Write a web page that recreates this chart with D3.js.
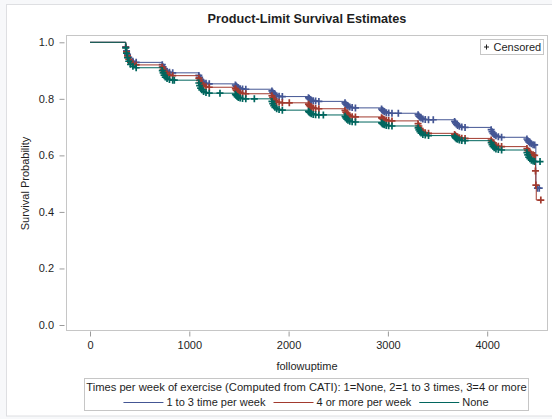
<!DOCTYPE html>
<html>
<head>
<meta charset="utf-8">
<script src="https://cdn.jsdelivr.net/npm/d3@7"></script>
<style>
  html, body { margin: 0; padding: 0; background: #f7f8fa; }
  svg { display: block; font-family: "Liberation Sans", Arial, sans-serif; }
</style>
</head>
<body>
<svg id="chart" width="552" height="419"></svg>
<script>
// Kaplan-Meier (product-limit) estimates by weekly exercise group.
const seriesNames = ["1 to 3 time per week", "4 or more per week", "None"];
const seriesColors = ["#445694", "#A23A2E", "#01665E"];

// Event times (days) falling in each yearly follow-up window.
const visitTimes = [
  360, 368, 378, 390, 408, 432, 465,
  728, 736, 746, 758, 776, 800, 833,
  1096, 1104, 1114, 1126, 1144, 1168, 1201,
  1464, 1472, 1482, 1494, 1512, 1536, 1569,
  1832, 1840, 1850, 1862, 1880, 1904, 1937,
  2200, 2208, 2218, 2230, 2248, 2272, 2305,
  2568, 2576, 2586, 2598, 2616, 2640, 2673,
  2936, 2944, 2954, 2966, 2984, 3008, 3041,
  3304, 3312, 3322, 3334, 3352, 3376, 3409,
  3672, 3680, 3690, 3702, 3720, 3744, 3777,
  4040, 4048, 4058, 4070, 4088, 4112, 4145,
  4400, 4408, 4418, 4430, 4445, 4462, 4478
];

// Survival estimate after each visit-window event.
const blueSurv = [
  0.984, 0.970, 0.957, 0.947, 0.938, 0.933, 0.929,
  0.921, 0.913, 0.907, 0.901, 0.897, 0.894, 0.892,
  0.883, 0.876, 0.869, 0.863, 0.858, 0.855, 0.853,
  0.849, 0.845, 0.842, 0.839, 0.836, 0.835, 0.834,
  0.828, 0.823, 0.818, 0.815, 0.811, 0.809, 0.808,
  0.804, 0.801, 0.798, 0.795, 0.793, 0.792, 0.791,
  0.786, 0.781, 0.777, 0.774, 0.771, 0.769, 0.768,
  0.764, 0.760, 0.757, 0.754, 0.751, 0.750, 0.749,
  0.744, 0.739, 0.735, 0.732, 0.729, 0.727, 0.726,
  0.720, 0.715, 0.710, 0.706, 0.703, 0.700, 0.699,
  0.691, 0.684, 0.678, 0.673, 0.669, 0.666, 0.664,
  0.658, 0.653, 0.648, 0.644, 0.641, 0.638, 0.637
];
const redSurv = [
  0.982, 0.966, 0.952, 0.940, 0.930, 0.924, 0.920,
  0.912, 0.904, 0.897, 0.892, 0.887, 0.884, 0.882,
  0.873, 0.865, 0.857, 0.851, 0.846, 0.843, 0.841,
  0.836, 0.831, 0.827, 0.824, 0.821, 0.819, 0.818,
  0.811, 0.805, 0.799, 0.794, 0.790, 0.788, 0.786,
  0.781, 0.777, 0.773, 0.770, 0.768, 0.766, 0.765,
  0.759, 0.753, 0.748, 0.743, 0.740, 0.737, 0.736,
  0.733, 0.730, 0.728, 0.726, 0.724, 0.723, 0.722,
  0.712, 0.704, 0.696, 0.689, 0.684, 0.680, 0.678,
  0.674, 0.670, 0.667, 0.665, 0.662, 0.661, 0.660,
  0.654, 0.648, 0.643, 0.638, 0.635, 0.632, 0.631,
  0.624, 0.618, 0.612, 0.608, 0.604, 0.602, 0.600
];
const greenSurv = [
  0.980, 0.962, 0.946, 0.933, 0.922, 0.915, 0.910,
  0.900, 0.892, 0.884, 0.877, 0.872, 0.868, 0.866,
  0.856, 0.847, 0.838, 0.832, 0.826, 0.822, 0.820,
  0.816, 0.812, 0.808, 0.805, 0.803, 0.801, 0.800,
  0.791, 0.783, 0.776, 0.770, 0.765, 0.762, 0.760,
  0.756, 0.753, 0.750, 0.747, 0.745, 0.744, 0.743,
  0.738, 0.733, 0.728, 0.724, 0.721, 0.719, 0.718,
  0.715, 0.712, 0.710, 0.708, 0.706, 0.705, 0.704,
  0.697, 0.690, 0.684, 0.679, 0.674, 0.672, 0.670,
  0.666, 0.662, 0.659, 0.657, 0.654, 0.653, 0.652,
  0.645, 0.638, 0.632, 0.627, 0.623, 0.621, 0.619,
  0.610, 0.602, 0.594, 0.588, 0.583, 0.580, 0.578
];

// Late events at the end of follow-up.
const blueTailTimes = [4490];
const blueTailSurv = [0.484];
const redTailTimes = [4486, 4490, 4494];
const redTailSurv = [0.545, 0.495, 0.442];
const greenTailTimes = [];
const greenTailSurv = [];

// Censoring times outside the visit windows.
const blueCensorTimes = [3105, 3457, 4506, 4524];
const redCensorTimes = [2007, 4486, 4490, 4540];
const greenCensorTimes = [849, 1309, 1655, 2350, 4532];

const xTicks = [0, 1000, 2000, 3000, 4000];
const yTicks = [0, 0.2, 0.4, 0.6, 0.8, 1.0];

const groups = [
  { name: seriesNames[0], color: seriesColors[0], surv: blueSurv,  tailT: blueTailTimes,  tailS: blueTailSurv,  cens: blueCensorTimes },
  { name: seriesNames[1], color: seriesColors[1], surv: redSurv,   tailT: redTailTimes,   tailS: redTailSurv,   cens: redCensorTimes },
  { name: seriesNames[2], color: seriesColors[2], surv: greenSurv, tailT: greenTailTimes, tailS: greenTailSurv, cens: greenCensorTimes }
];

const svg = d3.select("#chart");
const ink = "#1e1e1e";
const wall = { x: 66, y: 35, w: 481, h: 295 };

// Outer graph frame
svg.append("rect").attr("x", 6.5).attr("y", 4.5).attr("width", 560).attr("height", 411.5)
  .attr("fill", "#ffffff").attr("stroke", "#dedfe2");

// Title
svg.append("text").attr("x", 307).attr("y", 23).attr("text-anchor", "middle")
  .attr("font-size", 12.7).attr("font-weight", "bold").attr("fill", ink)
  .text("Product-Limit Survival Estimates");

const x = d3.scaleLinear().domain([0, 4000]).range([90, 487.2]);
const y = d3.scaleLinear().domain([0, 1]).range([325, 42.3]);

// Plot wall
svg.append("rect").attr("x", wall.x + 0.5).attr("y", wall.y + 0.5)
  .attr("width", wall.w).attr("height", wall.h)
  .attr("fill", "#ffffff").attr("stroke", "#c6c6c6");

// Axes
const xAxis = svg.append("g").attr("transform", `translate(0,${wall.y + wall.h + 1.5})`)
  .call(d3.axisBottom(x).tickValues(xTicks).tickSize(5).tickPadding(5).tickFormat(d3.format("d")));
const yAxis = svg.append("g").attr("transform", `translate(${wall.x - 1.5},0)`)
  .call(d3.axisLeft(y).tickValues(yTicks).tickSize(5).tickPadding(5.5).tickFormat(d3.format(".1f")));
[xAxis, yAxis].forEach(g => {
  g.select(".domain").remove();
  g.selectAll(".tick line").attr("stroke", "#9a9a9a");
  g.selectAll(".tick text").attr("fill", ink).attr("font-size", 11)
    .attr("font-family", "'Liberation Sans', Arial, sans-serif");
});

svg.append("text").attr("x", 307).attr("y", 370).attr("text-anchor", "middle")
  .attr("font-size", 11).attr("fill", ink).text("followuptime");
svg.append("text").attr("transform", "translate(29,183.5) rotate(-90)").attr("text-anchor", "middle")
  .attr("font-size", 11).attr("fill", ink).text("Survival Probability");

// Curves
const plot = svg.append("g");
const line = d3.line().x(d => x(d[0])).y(d => y(d[1])).curve(d3.curveStepAfter);
const plusPath = h => `M${-h},0H${h}M0,${-h}V${h}`;

groups.forEach(g => {
  const events = visitTimes.map((t, i) => [t, g.surv[i]])
    .concat(g.tailT.map((t, i) => [t, g.tailS[i]]));
  const survAt = t => {
    let s = 1;
    for (const e of events) { if (e[0] <= t) s = e[1]; else break; }
    return s;
  };
  const tEnd = d3.max(g.cens);
  const pts = [[0, 1]].concat(events, [[tEnd, survAt(tEnd)]]);
  plot.append("path").attr("d", line(pts)).attr("fill", "none")
    .attr("stroke", g.color).attr("stroke-width", 1);

  const marks = visitTimes.concat(g.cens).map(t => [t, survAt(t)]);
  plot.append("g").selectAll("path").data(marks).join("path")
    .attr("transform", d => `translate(${x(d[0])},${y(d[1])})`)
    .attr("d", plusPath(3.5)).attr("fill", "none")
    .attr("stroke", g.color).attr("stroke-width", 1.7);
});

// Censored key inside the wall
const ck = svg.append("g");
ck.append("rect").attr("x", 480.5).attr("y", 39.5).attr("width", 63).attr("height", 15)
  .attr("fill", "#ffffff").attr("stroke", "#c6c6c6");
ck.append("path").attr("transform", "translate(486.5,47)").attr("d", plusPath(2.5))
  .attr("stroke", ink).attr("stroke-width", 1);
ck.append("text").attr("x", 493.5).attr("y", 51).attr("font-size", 11).attr("fill", ink).text("Censored");

// Group legend
const lg = svg.append("g");
lg.append("rect").attr("x", 84.5).attr("y", 378.5).attr("width", 444).attr("height", 32)
  .attr("fill", "#ffffff").attr("stroke", "#c6c6c6");
lg.append("text").attr("x", 306.5).attr("y", 391).attr("text-anchor", "middle")
  .attr("font-size", 11.2).attr("fill", ink)
  .text("Times per week of exercise (Computed from CATI): 1=None, 2=1 to 3 times, 3=4 or more");

const items = lg.append("g");
let cx = 0;
groups.forEach((g, i) => {
  const it = items.append("g").attr("transform", `translate(${cx},0)`);
  it.append("line").attr("x1", 0).attr("x2", 40).attr("y1", 402.5).attr("y2", 402.5)
    .attr("stroke", g.color).attr("stroke-width", 1);
  const t = it.append("text").attr("x", 43).attr("y", 406).attr("font-size", 11)
    .attr("fill", ink).text(g.name);
  cx += 43 + t.node().getComputedTextLength() + 8;
});
const totalW = cx - 8;
items.attr("transform", `translate(${306 - totalW / 2},0)`);
</script>
</body>
</html>
